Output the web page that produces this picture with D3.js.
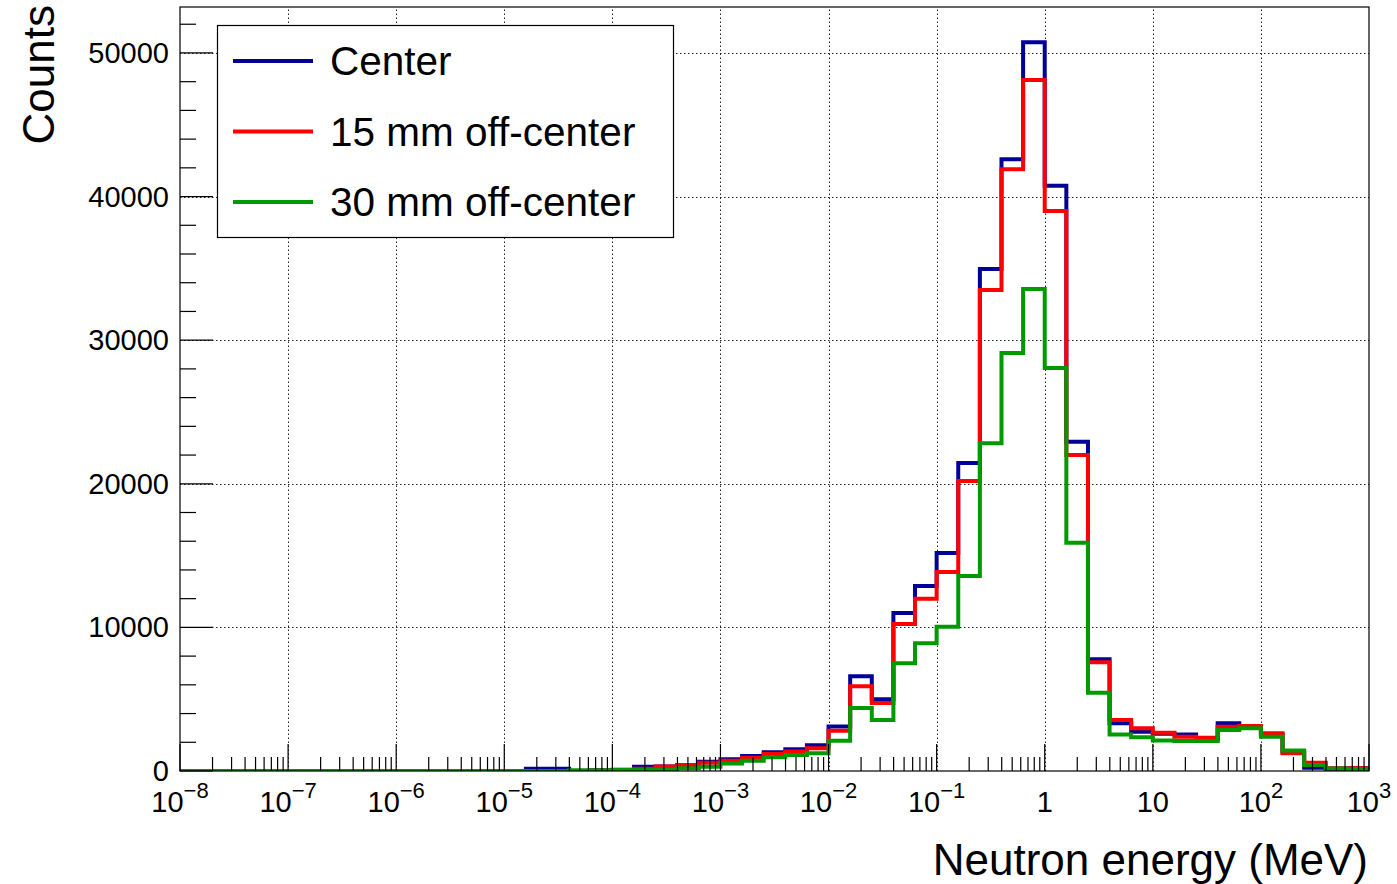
<!DOCTYPE html>
<html>
<head>
<meta charset="utf-8">
<script src="https://cdn.jsdelivr.net/npm/d3@7"></script>
<style>
  body { margin: 0; background: #fff; }
  svg { display: block; font-family: "Liberation Sans", Arial, Helvetica, sans-serif; }
</style>
</head>
<body>
<svg id="chart" width="1397" height="884"></svg>
<script>
// 55 log bins, 5 per decade, from 1e-8 to 1e3 MeV
const binCount = 55;
const binsPerDecade = 5;
const decades = [-8, -7, -6, -5, -4, -3, -2, -1, 0, 1, 2, 3];
const yTicks = [0, 10000, 20000, 30000, 40000, 50000];

const seriesNames = ["Center", "15 mm off-center", "30 mm off-center"];
const seriesColors = ["#000099", "#ff0000", "#009900"];

const centerCounts = [
  0, 0, 0, 0, 0, 0, 0, 0, 0, 0,
  0, 0, 0, 0, 0, 0, 150, 150, 0, 60,
  80, 300, 320, 420, 650, 810, 1040, 1300, 1510, 1790,
  3100, 6600, 4990, 11000, 12880, 15180, 21450, 34960, 42600, 50740,
  40760, 22930, 7780, 3320, 2740, 2600, 2550, 2200, 3320, 3100,
  2550, 1300, 230, 150, 190
];
const offset15Counts = [
  0, 0, 0, 0, 0, 0, 0, 0, 0, 0,
  0, 0, 0, 0, 0, 0, 0, 0, 0, 40,
  60, 150, 320, 420, 580, 720, 930, 1180, 1350, 1580,
  2800, 5900, 4730, 10240, 12000, 13860, 20200, 33500, 41900, 48120,
  39000, 22000, 7570, 3550, 2970, 2670, 2390, 2320, 3090, 3130,
  2620, 1230, 580, 200, 190
];
const offset30Counts = [
  0, 0, 0, 0, 0, 0, 0, 0, 0, 0,
  0, 0, 0, 0, 0, 0, 0, 0, 60, 60,
  70, 80, 100, 190, 300, 530, 720, 950, 1110, 1230,
  2100, 4390, 3550, 7500, 8900, 10050, 13580, 22820, 29100, 33560,
  28060, 15900, 5450, 2550, 2350, 2130, 2090, 2090, 2860, 2970,
  2390, 1420, 420, 180, 140
];
const allCounts = [centerCounts, offset15Counts, offset30Counts];

const svg = d3.select("#chart");
const W = +svg.attr("width");
const H = +svg.attr("height");
const margin = { top: 7, right: 28, bottom: 113, left: 180 };

const x = d3.scaleLog()
  .domain([1e-8, 1e3])
  .range([margin.left, W - margin.right]);

const y = d3.scaleLinear()
  .domain([0, 53200])
  .range([H - margin.bottom, margin.top]);

const binEdges = d3.range(binCount + 1).map(i => Math.pow(10, -8 + i / binsPerDecade));

svg.append("rect").attr("width", W).attr("height", H).attr("fill", "#fff");

// Grid
const grid = svg.append("g")
  .attr("stroke", "#222")
  .attr("stroke-width", 1)
  .attr("stroke-dasharray", "1.5,2.5");

grid.selectAll("line.gx")
  .data(decades.slice(1, -1))
  .join("line")
  .attr("x1", d => Math.round(x(Math.pow(10, d))) + 0.5)
  .attr("x2", d => Math.round(x(Math.pow(10, d))) + 0.5)
  .attr("y1", y.range()[0])
  .attr("y2", y.range()[1]);

grid.selectAll("line.gy")
  .data(yTicks.slice(1))
  .join("line")
  .attr("x1", x.range()[0])
  .attr("x2", x.range()[1])
  .attr("y1", d => Math.round(y(d)) + 0.5)
  .attr("y2", d => Math.round(y(d)) + 0.5);

// Histograms
svg.append("clipPath").attr("id", "plot-clip")
  .append("rect")
  .attr("x", margin.left)
  .attr("y", margin.top)
  .attr("width", x.range()[1] - x.range()[0])
  .attr("height", y.range()[0] - y.range()[1]);

function histPoints(counts) {
  const pts = [[binEdges[0], 0]];
  counts.forEach((v, i) => {
    pts.push([binEdges[i], v]);
    pts.push([binEdges[i + 1], v]);
  });
  pts.push([binEdges[binCount], 0]);
  return pts;
}

const line = d3.line()
  .x(d => x(d[0]))
  .y(d => y(d[1]));

svg.append("g")
  .attr("clip-path", "url(#plot-clip)")
  .selectAll("path")
  .data(allCounts)
  .join("path")
  .attr("d", d => line(histPoints(d)))
  .attr("fill", "none")
  .attr("stroke", (d, i) => seriesColors[i])
  .attr("stroke-width", 4)
  .attr("stroke-linejoin", "miter");

// Axes (ROOT style: ticks point inside the frame)
const axes = svg.append("g").attr("stroke", "#000").attr("stroke-width", 1.2);

const x0 = x.range()[0], x1 = x.range()[1];
const yb = y.range()[0], yt = y.range()[1];

axes.append("rect")
  .attr("x", x0)
  .attr("y", yt)
  .attr("width", x1 - x0)
  .attr("height", yb - yt)
  .attr("fill", "none");

const yMinor = d3.range(0, 53200, 2000);
axes.selectAll("line.yt")
  .data(yMinor)
  .join("line")
  .attr("x1", x0)
  .attr("x2", d => x0 + (d % 10000 === 0 ? 33 : 16))
  .attr("y1", d => y(d))
  .attr("y2", d => y(d));

const xMinor = [];
decades.slice(0, -1).forEach(e => {
  for (let m = 1; m <= 9; m++) xMinor.push({ v: m * Math.pow(10, e), major: m === 1 });
});
xMinor.push({ v: 1e3, major: true });

axes.selectAll("line.xt")
  .data(xMinor)
  .join("line")
  .attr("x1", d => x(d.v))
  .attr("x2", d => x(d.v))
  .attr("y1", yb)
  .attr("y2", d => yb - (d.major ? 27 : 14));

// Tick labels
svg.append("g")
  .selectAll("text")
  .data(yTicks)
  .join("text")
  .attr("x", 169)
  .attr("y", d => y(d))
  .attr("text-anchor", "end")
  .attr("dominant-baseline", "central")
  .attr("font-size", 29)
  .text(d => d);

const xLabels = svg.append("g")
  .selectAll("text")
  .data(decades)
  .join("text")
  .attr("x", d => x(Math.pow(10, d)))
  .attr("y", 812)
  .attr("text-anchor", "middle")
  .attr("font-size", 29);

xLabels.each(function(d) {
  const t = d3.select(this);
  if (d === 0) { t.text("1"); return; }
  if (d === 1) { t.text("10"); return; }
  t.append("tspan").text("10");
  t.append("tspan")
    .attr("dy", -14)
    .attr("font-size", 22)
    .text(d < 0 ? "\u2212" + (-d) : d);
});

// Axis titles
svg.append("text")
  .attr("x", 1368)
  .attr("y", 875)
  .attr("text-anchor", "end")
  .attr("font-size", 44)
  .text("Neutron energy (MeV)");

svg.append("text")
  .attr("transform", "translate(54,5) rotate(-90)")
  .attr("text-anchor", "end")
  .attr("font-size", 44)
  .text("Counts");

// Legend
const legend = svg.append("g");
legend.append("rect")
  .attr("x", 217.5)
  .attr("y", 25.5)
  .attr("width", 456)
  .attr("height", 212)
  .attr("fill", "#fff")
  .attr("stroke", "#000")
  .attr("stroke-width", 1.2);

seriesNames.forEach((name, i) => {
  const ly = 61 + i * 70.5;
  legend.append("line")
    .attr("x1", 233)
    .attr("x2", 313)
    .attr("y1", ly)
    .attr("y2", ly)
    .attr("stroke", seriesColors[i])
    .attr("stroke-width", 4);
  legend.append("text")
    .attr("x", 330)
    .attr("y", ly)
    .attr("dominant-baseline", "central")
    .attr("font-size", 40.5)
    .text(name);
});
</script>
</body>
</html>
